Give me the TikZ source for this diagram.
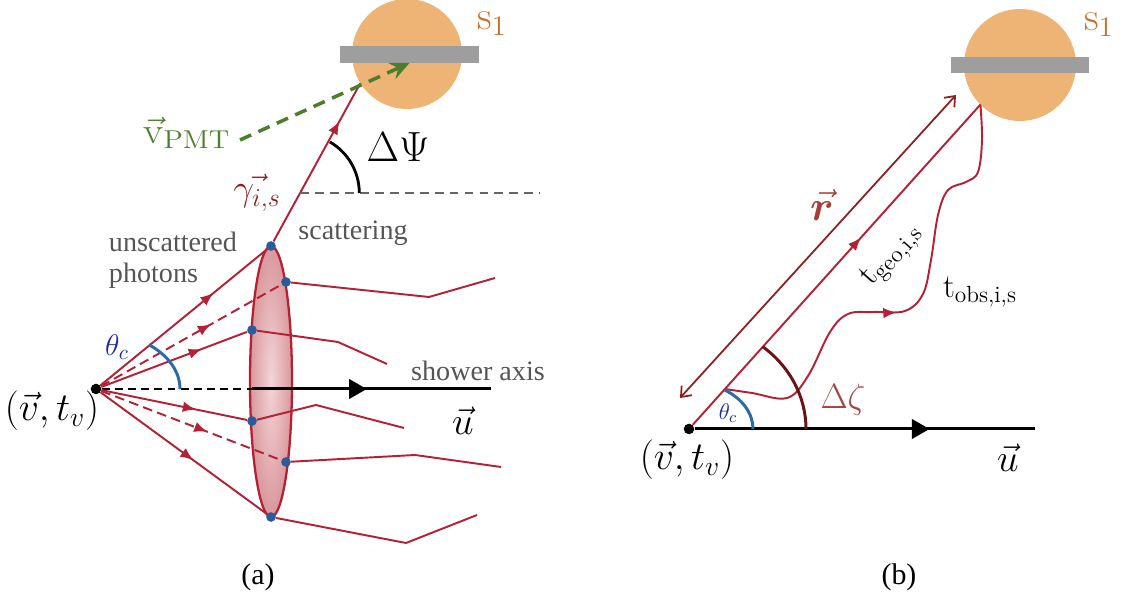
\documentclass[tikz,border=0pt]{standalone}
\usepackage{fix-cm}
\usepackage{amsmath}
\usepackage{amssymb}
\usepackage{bm}
\usepackage{fontspec}
\newfontfamily\capfont{Liberation Serif}
\usepackage{tikz}
\usetikzlibrary{arrows.meta, decorations.markings}
\usepackage{xcolor}

\definecolor{phred}{HTML}{B22234}
\definecolor{rcol}{HTML}{8B1E1E}
\definecolor{rlbl}{HTML}{A63D3A}
\definecolor{gamcol}{HTML}{8C1D23}
\definecolor{zetaarc}{HTML}{6A1515}
\definecolor{zetalbl}{HTML}{A84444}
\definecolor{dotblue}{HTML}{2A5B9B}
\definecolor{arcblue}{HTML}{2F6AA3}
\definecolor{thetalbl}{HTML}{1D2C9B}
\definecolor{pmtorange}{HTML}{EEB476}
\definecolor{s1col}{HTML}{C86F2C}
\definecolor{bargray}{HTML}{9E9E9E}
\definecolor{pmtgreen}{HTML}{4B7F2D}
\definecolor{txtgray}{HTML}{555555}
\definecolor{lensout}{HTML}{D9979C}
\definecolor{lensin}{HTML}{F3D5D7}

\begin{document}
\begin{tikzpicture}[
			x=0.2mm, y=0.2mm,
			photon/.style={draw=phred, line width=1.1pt},
			rdash/.style={dash pattern=on 5.5pt off 3pt},
			midarrow/.style={postaction={decorate},
				decoration={markings, mark=at position #1 with {\arrow{Latex[length=7.5pt,width=6pt]}}}},
			axisarrow/.style={postaction={decorate},
				decoration={markings, mark=at position #1 with {\arrow{Triangle[length=10pt,width=11pt]}}}},
			axisline/.style={draw=black, line width=1.7pt},
			dot/.style={circle, fill=dotblue, inner sep=0pt, minimum size=5.5pt},
			vtx/.style={circle, fill=black, inner sep=0pt, minimum size=6pt},
			sensor/.style={circle, fill=pmtorange, inner sep=0pt, outer sep=0pt},
			pmtbar/.style={rectangle, fill=bargray, inner sep=0pt, outer sep=0pt},
			graytxt/.style={text=txtgray, font=\capfont\fontsize{16}{17.5}\selectfont},
			captxt/.style={font=\capfont\fontsize{17}{20}\selectfont},
			big/.style={font=\fontsize{21}{24}\selectfont},
			mid/.style={font=\fontsize{19}{22}\selectfont},
			slabel/.style={font=\fontsize{23}{26}\selectfont, text=s1col, inner sep=0pt},
			]
			\useasboundingbox (0,0) rectangle (1124,600);
			
			% ── Panel (a) ────────────────────────────────────────────────────
			\node[sensor, minimum size=22mm] (pmta) at (407,546) {};
			\node[pmtbar, minimum width=27.8mm, minimum height=3.4mm] (bara) at (409.5,545.5) {};
			\node[slabel] (sa) at (492,576) {$\text{s}_1$};
			
			\draw[draw=phred, line width=1.3pt, shading=radial, inner color=lensin, outer color=lensout]
			(271,218.5) ellipse [x radius=21, y radius=135.5];
			
			\node[vtx] (va) at (96,211) {};
			\node[dot] (d1) at (271,354) {};
			\node[dot] (d2) at (286,318) {};
			\node[dot] (d3) at (252,270) {};
			\node[dot] (d4) at (252,179) {};
			\node[dot] (d5) at (286,138) {};
			\node[dot] (d6) at (271,83) {};
			
			\coordinate (axa) at (252,211);
			\coordinate (axaend) at (491,211);
			\draw[line width=1.2pt, dash pattern=on 4.5pt off 3pt] (va) -- (axa);
			\draw[axisline, axisarrow=0.48] (axa) -- (axaend);
			
			% rays from the vertex
			\draw[photon, midarrow=0.68] (va) -- (d1);
			\draw[photon, rdash, midarrow=0.61] (va) -- (d2);
			\draw[photon, midarrow=0.69] (va) -- (d3);
			\draw[photon, midarrow=0.65] (va) -- (d4);
			\draw[photon, rdash, midarrow=0.59] (va) -- (d5);
			\draw[photon, midarrow=0.56] (va) -- (d6);
			
			% scattered photons
			\coordinate (k2) at (429,303); \coordinate (e2) at (495,322);
			\coordinate (k3) at (338,258); \coordinate (e3) at (387,236);
			\coordinate (k4) at (316,195); \coordinate (e4) at (404,172);
			\coordinate (k5) at (415,145); \coordinate (e5) at (501,133);
			\coordinate (k6) at (406,57);  \coordinate (e6) at (477,85);
			\draw[photon] (d2) -- (k2) -- (e2);
			\draw[photon] (d3) -- (k3) -- (e3);
			\draw[photon] (d4) -- (k4) -- (e4);
			\draw[photon] (d5) -- (k5) -- (e5);
			\draw[photon] (d6) -- (k6) -- (e6);
			
			\draw[photon, midarrow=0.76] (d1) -- (pmta.212);
			
			\coordinate (psi) at (300.3,407);
			\coordinate (psiend) at (540,407);
			\draw[draw=black!60, line width=1.1pt, dash pattern=on 5pt off 3.5pt] (psi) -- (psiend);
			\draw[line width=1.6pt] (psi) ++(59,0) arc[start angle=0, end angle=60, radius=59];
			\node[font=\fontsize{24}{28}\selectfont] (dpsi) at (398,453) {$\Delta\Psi$};
			
			\node[big, text=gamcol] (gam) at (257,407) {$\vec{\gamma_{i,s}}$};
			
			\node[big, text=pmtgreen, xscale=1.12] (vpmt) at (187,467) {$\vec{\text{v}}_{\text{PMT}}$};
			\coordinate (gs) at (240,460);
			\draw[draw=pmtgreen, line width=2pt, dash pattern=on 7pt off 4.5pt,
			-{Stealth[length=11pt,width=10pt,inset=4pt]}] (gs) -- (bara.south);
			
			\node[graytxt, align=left] (unsc) at (173,340) {unscattered\\photons};
			\node[graytxt] (scat) at (353,367) {scattering};
			\node[graytxt] (shax) at (478,229) {shower axis};
			
			\draw[draw=arcblue, line width=1.7pt] (va.center) ++(84,0)
			arc[start angle=0, end angle=51, x radius=84, y radius=57];
			\node[font=\fontsize{17}{20}\selectfont, text=thetalbl] (tha) at (117,253) {$\theta_c$};
			
			\node[font=\fontsize{22}{26}\selectfont] (ua) at (463,179) {$\vec u$};
			\node[font=\fontsize{22.5}{26}\selectfont] (vta) at (52,189) {$(\vec v, t_v)$};
			\node[captxt] (capa) at (258,23) {(a)};
			
			% ── Panel (b) ────────────────────────────────────────────────────
			\node[sensor, minimum size=22.4mm] (pmtb) at (1020,535) {};
			\node[pmtbar, minimum width=27.6mm, minimum height=3.2mm] (barb) at (1020,535) {};
			\node[slabel] (sb) at (1099,575) {$\text{s}_1$};
			
			\node[vtx] (vb) at (689,171) {};
			\coordinate (axbend) at (1035,171);
			\draw[axisline, axisarrow=0.69] (vb) -- (axbend);
			
			\coordinate (rlo) at (680,202);
			\coordinate (rhi) at (956,505);
			\draw[draw=rcol, line width=1pt,
			{Straight Barb[length=5pt,width=8pt]}-{Straight Barb[length=5pt,width=8pt]}] (rlo) -- (rhi);
			\node[font=\fontsize{24}{28}\selectfont, text=rlbl] (rl) at (822,395) {$\vec{\bm r}$};
			
			\draw[photon, midarrow=0.585] (vb) -- (pmtb.225);
			\node[mid, rotate=48] (tgeo) at (892,345) {$\text{t}_{\text{geo,i,s}}$};
			
			\coordinate (w0) at (725,211);
			\draw[photon, midarrow=0.47] plot[smooth, tension=0.6] coordinates {
				(w0) (752,207) (787,202) (808,224) (830,268) (848,286) (873,288)
				(905,289) (923,306) (931,340) (938,385) (948,410) (966,418) (978,428)
				(982,460) (pmtb.225)};
			\node[mid] (tobs) at (980,308) {$\text{t}_{\text{obs,i,s}}$};
			
			\draw[draw=arcblue, line width=1.7pt] (vb.center) ++(64,0)
			arc[start angle=0, end angle=56, x radius=64, y radius=47];
			\node[font=\fontsize{13}{15}\selectfont, text=thetalbl] (thb) at (728,187) {$\theta_c$};
			
			\draw[draw=zetaarc, line width=1.7pt] (vb.center) ++(117,0)
			arc[start angle=0, end angle=51, x radius=117, y radius=106];
			\node[font=\fontsize{20}{24}\selectfont, text=zetalbl] (dz) at (843,200) {$\Delta\zeta$};
			
			\node[font=\fontsize{22.5}{26}\selectfont] (vtb) at (687,140) {$(\vec v, t_v)$};
			\node[font=\fontsize{22}{26}\selectfont] (ub) at (1008,142) {$\vec u$};
			\node[captxt] (capb) at (899,23) {(b)};
			
		\end{tikzpicture}
\end{document}
